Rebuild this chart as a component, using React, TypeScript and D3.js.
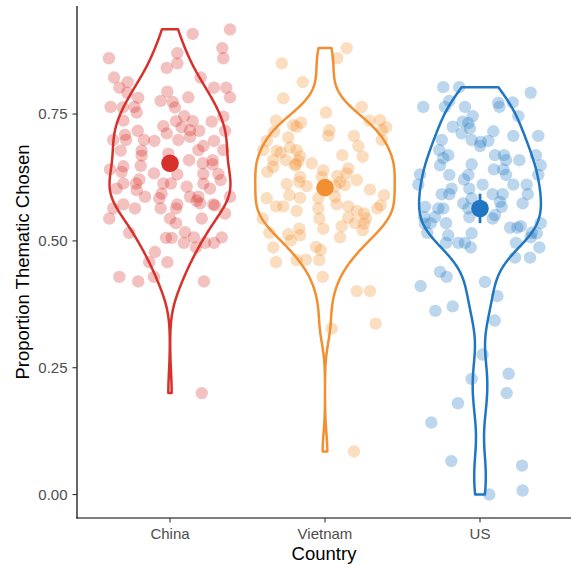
import React from 'react'
import * as d3 from 'd3'

const countries = ['China', 'Vietnam', 'US']
const colors = ['#d7312b', '#f28f30', '#1f77c2']

// [horizontal jitter (in category units), proportion thematic chosen]
const chinaPoints: [number, number][] = [
  [0.387, 0.917], [0.146, 0.908], [-0.394, 0.86], [0.337, 0.88], [0.344, 0.86], [0.047, 0.87],
  [0.047, 0.85], [-0.021, 0.841], [-0.361, 0.822], [-0.273, 0.813], [-0.327, 0.802], [-0.275, 0.792],
  [-0.205, 0.782], [0.198, 0.822], [0.284, 0.802], [0.363, 0.802], [0.387, 0.783], [-0.017, 0.794],
  [0.118, 0.783], [-0.06, 0.776], [0.017, 0.774], [0.032, 0.763], [-0.383, 0.764], [-0.305, 0.763],
  [-0.23, 0.764], [-0.215, 0.753], [-0.301, 0.737], [0.344, 0.745], [0.092, 0.746], [0.039, 0.736],
  [0.146, 0.736], [-0.043, 0.726], [0.075, 0.724], [0.129, 0.718], [0.189, 0.717], [0.269, 0.735],
  [0.355, 0.717], [-0.208, 0.717], [-0.021, 0.712], [-0.366, 0.699], [-0.29, 0.709], [-0.284, 0.699],
  [-0.168, 0.699], [-0.101, 0.697], [0.054, 0.699], [0.129, 0.705], [0.284, 0.697], [-0.318, 0.678],
  [-0.183, 0.678], [-0.183, 0.668], [-0.011, 0.672], [0.215, 0.687], [0.183, 0.679], [0.344, 0.679],
  [0.123, 0.659], [0.211, 0.653], [0.275, 0.659], [0.275, 0.651], [-0.387, 0.641], [-0.301, 0.647],
  [-0.312, 0.636], [-0.189, 0.648], [-0.103, 0.633], [0.047, 0.631], [0.215, 0.632], [0.312, 0.632],
  [-0.198, 0.621], [-0.219, 0.613], [-0.301, 0.613], [-0.344, 0.603], [-0.043, 0.613], [0.006, 0.613],
  [0.108, 0.607], [-0.215, 0.6], [-0.054, 0.593], [0.215, 0.613], [0.327, 0.62], [0.258, 0.603],
  [0.387, 0.587], [0.129, 0.587], [0.183, 0.587], [-0.161, 0.587], [-0.069, 0.584], [-0.301, 0.572],
  [-0.226, 0.564], [-0.366, 0.564], [-0.392, 0.544], [-0.06, 0.564], [0.047, 0.572], [0.039, 0.564],
  [0.172, 0.579], [0.194, 0.574], [0.279, 0.572], [0.29, 0.57], [0.355, 0.554], [0, 0.544],
  [0.039, 0.535], [0.205, 0.544], [-0.263, 0.516], [-0.026, 0.506], [0.011, 0.506], [0.097, 0.517],
  [0.09, 0.496], [0.168, 0.487], [0.155, 0.507], [0.226, 0.496], [0.284, 0.496], [0.334, 0.507],
  [-0.097, 0.478], [-0.134, 0.458], [-0.017, 0.458], [-0.327, 0.429], [-0.205, 0.42], [-0.103, 0.429],
  [0.219, 0.42], [0.205, 0.2],
]

const vietnamPoints: [number, number][] = [
  [0.14, 0.88], [0.079, 0.86], [-0.279, 0.85], [-0.144, 0.813], [-0.269, 0.781], [0.237, 0.764],
  [0.006, 0.753], [-0.316, 0.737], [-0.205, 0.728], [-0.155, 0.733], [-0.183, 0.725], [0.286, 0.737],
  [0.355, 0.738], [0.394, 0.724], [0.366, 0.718], [0.366, 0.699], [0.028, 0.718], [0.021, 0.707],
  [0.187, 0.707], [0.215, 0.687], [-0.329, 0.715], [-0.237, 0.704], [-0.376, 0.697], [-0.398, 0.679],
  [-0.312, 0.678], [-0.286, 0.674], [-0.226, 0.684], [-0.183, 0.679], [-0.161, 0.667], [0.112, 0.669],
  [0.243, 0.666], [-0.334, 0.659], [-0.252, 0.659], [-0.187, 0.651], [-0.172, 0.658], [-0.086, 0.653],
  [-0.372, 0.636], [-0.334, 0.646], [-0.194, 0.649], [-0.011, 0.639], [0.15, 0.643], [0.14, 0.633],
  [-0.161, 0.626], [-0.166, 0.616], [-0.021, 0.626], [0.079, 0.628], [0.097, 0.616], [0.205, 0.62],
  [-0.247, 0.612], [-0.118, 0.608], [0.065, 0.607], [0.129, 0.61], [0.29, 0.601], [0.381, 0.59],
  [-0.23, 0.59], [-0.161, 0.585], [-0.376, 0.584], [0.065, 0.587], [-0.316, 0.568], [-0.269, 0.568],
  [-0.183, 0.559], [-0.043, 0.584], [-0.043, 0.564], [0.075, 0.572], [0.15, 0.568], [0.205, 0.559],
  [0.252, 0.554], [0.265, 0.544], [0.337, 0.564], [0.359, 0.57], [-0.402, 0.544], [-0.037, 0.544],
  [0.15, 0.546], [0.194, 0.535], [0.252, 0.534], [0.243, 0.521], [0.108, 0.529], [-0.359, 0.516],
  [-0.237, 0.513], [-0.166, 0.524], [-0.161, 0.511], [-0.221, 0.501], [-0.011, 0.524], [0.097, 0.507],
  [-0.334, 0.487], [-0.058, 0.488], [-0.028, 0.482], [-0.316, 0.458], [-0.183, 0.462], [-0.123, 0.463],
  [-0.037, 0.462], [-0.015, 0.429], [0.205, 0.401], [0.29, 0.401], [0.327, 0.337], [0.043, 0.327],
  [0.187, 0.085],
]

const usPoints: [number, number][] = [
  [-0.237, 0.803], [-0.134, 0.803], [0.327, 0.792], [-0.366, 0.764], [-0.198, 0.776], [-0.226, 0.764],
  [-0.097, 0.764], [0.118, 0.772], [0.125, 0.764], [0.211, 0.773], [0.247, 0.746], [-0.047, 0.746],
  [-0.112, 0.735], [-0.075, 0.732], [-0.176, 0.725], [-0.065, 0.722], [-0.118, 0.712], [0.086, 0.716],
  [0.215, 0.707], [0.376, 0.707], [-0.247, 0.699], [-0.054, 0.699], [0.005, 0.695], [0.054, 0.697],
  [0, 0.687], [-0.263, 0.679], [-0.205, 0.669], [-0.237, 0.663], [0.097, 0.669], [0.155, 0.669],
  [0.168, 0.659], [0.254, 0.659], [0.361, 0.669], [-0.258, 0.649], [-0.054, 0.651], [0.09, 0.641],
  [0.15, 0.641], [0.392, 0.649], [0.376, 0.63], [-0.387, 0.631], [-0.398, 0.611], [-0.198, 0.63],
  [-0.103, 0.621], [-0.075, 0.63], [0.168, 0.63], [0.017, 0.611], [0.215, 0.611], [0.301, 0.611],
  [-0.183, 0.603], [-0.069, 0.603], [-0.247, 0.592], [-0.198, 0.592], [0.082, 0.592], [0.146, 0.592],
  [0.308, 0.592], [-0.054, 0.584], [-0.108, 0.574], [0.129, 0.577], [0.14, 0.567], [0.275, 0.574],
  [-0.355, 0.567], [-0.269, 0.564], [-0.237, 0.564], [-0.075, 0.564], [-0.361, 0.547], [-0.29, 0.547],
  [-0.069, 0.547], [0.097, 0.551], [-0.355, 0.534], [-0.318, 0.535], [-0.219, 0.535], [0.082, 0.544],
  [0.392, 0.535], [0.194, 0.526], [0.241, 0.526], [0.263, 0.529], [-0.34, 0.516], [0.334, 0.516],
  [-0.205, 0.511], [-0.054, 0.515], [-0.219, 0.496], [-0.14, 0.496], [-0.097, 0.496], [-0.06, 0.487],
  [0.232, 0.496], [0.327, 0.507], [0.366, 0.515], [0.383, 0.487], [0.226, 0.467], [0.323, 0.467],
  [-0.258, 0.439], [-0.215, 0.429], [-0.383, 0.411], [0.032, 0.419], [0.112, 0.391], [-0.176, 0.371],
  [-0.288, 0.362], [0.095, 0.343], [0.017, 0.276], [-0.054, 0.228], [0.185, 0.238], [0.172, 0.2],
  [-0.142, 0.18], [-0.314, 0.142], [-0.185, 0.066], [0.271, 0.057], [0.275, 0.008], [0.06, 0],
]

const groupPoints = [chinaPoints, vietnamPoints, usPoints]

// group means and error bar half-lengths
const means = [0.653, 0.605, 0.564]
const errors = [0.012, 0.013, 0.029]

const yTicks = [0, 0.25, 0.5, 0.75]

// gaussian kernel density like R's density() with bw.nrd0, trimmed to the data range
function violinDensity(values: number[]) {
  const v = values.slice().sort(d3.ascending)
  const n = v.length
  const sd = d3.deviation(v) as number
  const iqr = (d3.quantile(v, 0.75) as number) - (d3.quantile(v, 0.25) as number)
  const bw = 0.9 * Math.min(sd, iqr / 1.34) * Math.pow(n, -0.2)
  const lo = v[0]
  const hi = v[n - 1]
  const grid = d3.range(512).map((i) => lo + ((hi - lo) * i) / 511)
  return grid.map((g) => {
    let s = 0
    for (const xi of v) {
      const u = (g - xi) / bw
      s += Math.exp(-0.5 * u * u)
    }
    return { value: g, density: s / (n * bw * Math.sqrt(2 * Math.PI)) }
  })
}

export default function App() {
  const width = 571
  const height = 565
  const left = 77
  const right = 573
  const top = 6
  const bottom = 518

  const x = d3.scaleLinear().domain([0.4, 3.6]).range([left, right])
  const y = d3.scaleLinear().domain([-0.0462, 0.963]).range([bottom, top])

  const densities = groupPoints.map((pts) => violinDensity(pts.map((p) => p[1])))
  const maxDensity = d3.max(densities, (d) => d3.max(d, (e) => e.density)) as number

  const font = '"Liberation Sans", Arial, Helvetica, sans-serif'

  return (
    <svg
      width={width}
      height={height}
      style={{ position: 'absolute', left: 0, top: 0, background: '#fff' }}
      fontFamily={font}
    >
      {/* jittered points */}
      {groupPoints.map((pts, gi) => (
        <g key={'pts' + gi} fill={colors[gi]} fillOpacity={0.3}>
          {pts.map((p, i) => (
            <circle key={i} cx={x(gi + 1 + p[0])} cy={y(p[1])} r={6.2} />
          ))}
        </g>
      ))}

      {/* violins */}
      {densities.map((dens, gi) => {
        const area = d3
          .area<{ value: number; density: number }>()
          .y((d) => y(d.value))
          .x0((d) => x(gi + 1 - (d.density / maxDensity) * 0.45))
          .x1((d) => x(gi + 1 + (d.density / maxDensity) * 0.45))
        return (
          <path
            key={'v' + gi}
            d={area(dens) as string}
            fill="none"
            stroke={colors[gi]}
            strokeWidth={2.5}
            strokeLinejoin="round"
          />
        )
      })}

      {/* means with error bars */}
      {means.map((m, gi) => (
        <g key={'m' + gi} fill={colors[gi]} stroke={colors[gi]}>
          <line
            x1={x(gi + 1)}
            x2={x(gi + 1)}
            y1={y(m - errors[gi])}
            y2={y(m + errors[gi])}
            strokeWidth={2.8}
          />
          <circle cx={x(gi + 1)} cy={y(m)} r={8.8} stroke="none" />
        </g>
      ))}

      {/* axes */}
      <line x1={left} x2={left} y1={top} y2={bottom + 0.6} stroke="#000" strokeWidth={1.2} />
      <line x1={left - 0.6} x2={right} y1={bottom} y2={bottom} stroke="#000" strokeWidth={1.2} />

      {yTicks.map((t) => (
        <g key={'yt' + t}>
          <line x1={left - 4.5} x2={left} y1={y(t)} y2={y(t)} stroke="#333" strokeWidth={1.1} />
          <text
            x={left - 9.5}
            y={y(t)}
            dy="0.36em"
            textAnchor="end"
            fontSize={15}
            fill="#4d4d4d"
          >
            {d3.format('.2f')(t)}
          </text>
        </g>
      ))}

      {countries.map((c, i) => (
        <g key={'xt' + c}>
          <line x1={x(i + 1)} x2={x(i + 1)} y1={bottom} y2={bottom + 4.5} stroke="#333" strokeWidth={1.1} />
          <text x={x(i + 1)} y={538.5} textAnchor="middle" fontSize={15} fill="#4d4d4d">
            {c}
          </text>
        </g>
      ))}

      <text x={(left + right) / 2 - 1} y={560} textAnchor="middle" fontSize={18.5} fill="#000">
        Country
      </text>
      <text
        transform={`translate(29, ${(top + bottom) / 2}) rotate(-90)`}
        textAnchor="middle"
        fontSize={18.5}
        fill="#000"
      >
        Proportion Thematic Chosen
      </text>
    </svg>
  )
}
